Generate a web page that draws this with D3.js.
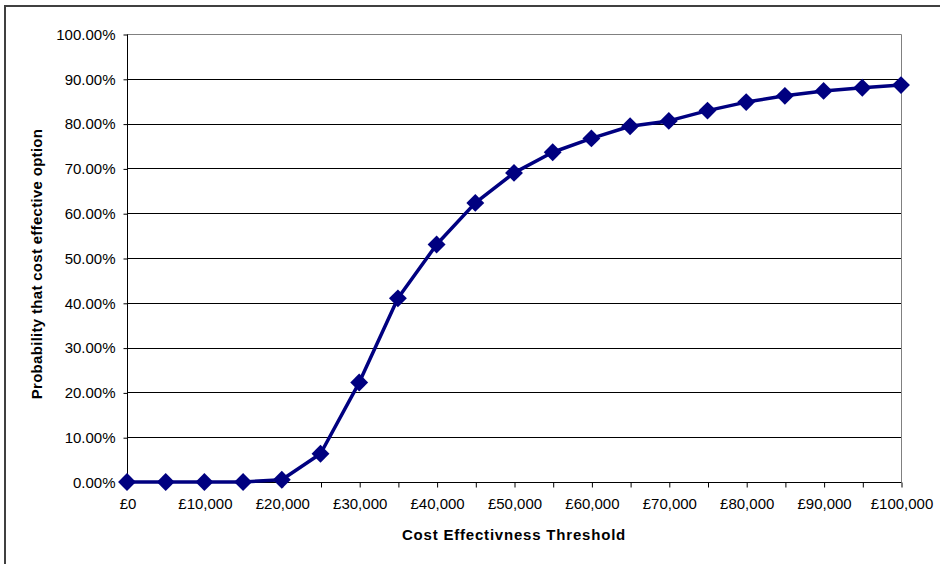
<!DOCTYPE html>
<html>
<head>
<meta charset="utf-8">
<script src="https://cdn.jsdelivr.net/npm/d3@7"></script>
<style>
  html, body { margin: 0; padding: 0; background: #fff; }
  svg { display: block; font-family: "Liberation Sans", Arial, sans-serif; }
</style>
</head>
<body>
<svg id="chart" width="940" height="564"></svg>
<script>
// Willingness-to-pay thresholds (£) and probability the option is cost effective (%)
const thresholds = [0, 5000, 10000, 15000, 20000, 25000, 30000, 35000, 40000, 45000, 50000,
                    55000, 60000, 65000, 70000, 75000, 80000, 85000, 90000, 95000, 100000];
const probability = [0, 0, 0, 0, 0.5, 6.3, 22.2, 41.0, 53.0, 62.3, 69.0,
                     73.6, 76.7, 79.4, 80.6, 82.9, 84.8, 86.2, 87.3, 88.0, 88.6];
const yTicks = [0, 10, 20, 30, 40, 50, 60, 70, 80, 90, 100];
const xLabelTicks = [0, 10000, 20000, 30000, 40000, 50000, 60000, 70000, 80000, 90000, 100000];
const xTitle = "Cost Effectivness Threshold";
const yTitle = "Probability that cost effective option";

const svg = d3.select("#chart");
const plot = { left: 127, right: 901, top: 34, bottom: 482 };
const labelFont = "15px";

const x = d3.scaleLinear().domain([0, 100000]).range([plot.left, plot.right]);
const y = d3.scaleLinear().domain([0, 100]).range([plot.bottom, plot.top]);

// outer chart frame
svg.append("rect")
  .attr("x", 5).attr("y", 6).attr("width", 945).attr("height", 570)
  .attr("fill", "none").attr("stroke", "#404040").attr("stroke-width", 2);

// plot frame (top and right edges in grey)
svg.append("path")
  .attr("d", `M${plot.left},${plot.top + 0.5}H${plot.right + 0.5}V${plot.bottom}`)
  .attr("fill", "none").attr("stroke", "#808080").attr("stroke-width", 1);

// horizontal gridlines
svg.append("g")
  .selectAll("line")
  .data(yTicks.filter(d => d > 0 && d < 100))
  .join("line")
  .attr("x1", plot.left).attr("x2", plot.right)
  .attr("y1", d => Math.round(y(d)) + 0.5).attr("y2", d => Math.round(y(d)) + 0.5)
  .attr("stroke", "#000").attr("stroke-width", 1);

// y axis
const yAxis = d3.axisLeft(y)
  .tickValues(yTicks)
  .tickSize(4)
  .tickPadding(8)
  .tickFormat(d => d.toFixed(2) + "%");
const gy = svg.append("g")
  .attr("transform", `translate(${plot.left + 0.5},0.5)`)
  .call(yAxis);
gy.attr("font-size", labelFont).attr("font-family", "Liberation Sans, Arial, sans-serif");
gy.select(".domain").attr("stroke", "#000").attr("d", `M0,${plot.top}V${plot.bottom}`);
gy.selectAll(".tick line").attr("stroke", "#000");
gy.selectAll(".tick text").attr("fill", "#000");

// x axis: ticks every £5,000, labels every £10,000
const xAxis = d3.axisBottom(x)
  .tickValues(thresholds)
  .tickSize(5)
  .tickPadding(11)
  .tickFormat(d => xLabelTicks.includes(d) ? "£" + d3.format(",")(d) : "");
const gx = svg.append("g")
  .attr("transform", `translate(0.5,${plot.bottom + 0.5})`)
  .call(xAxis);
gx.attr("font-size", labelFont).attr("font-family", "Liberation Sans, Arial, sans-serif");
gx.select(".domain").attr("stroke", "#000").attr("d", `M${plot.left},0H${plot.right}`);
gx.selectAll(".tick line").attr("stroke", "#000");
gx.selectAll(".tick text").attr("fill", "#000");

// axis titles
svg.append("text")
  .attr("x", (plot.left + plot.right) / 2)
  .attr("y", 540)
  .attr("text-anchor", "middle")
  .attr("font-size", "15px")
  .attr("font-weight", "bold")
  .attr("letter-spacing", "0.8px")
  .text(xTitle);

svg.append("text")
  .attr("transform", `translate(42,${(plot.top + plot.bottom) / 2 + 6}) rotate(-90)`)
  .attr("text-anchor", "middle")
  .attr("font-size", "15px")
  .attr("font-weight", "bold")
  .attr("letter-spacing", "0.3px")
  .text(yTitle);

// data series
const points = thresholds.map((t, i) => ({ t, p: probability[i] }));
const line = d3.line().x(d => x(d.t)).y(d => y(d.p));

svg.append("path")
  .datum(points)
  .attr("d", line)
  .attr("fill", "none")
  .attr("stroke", "#000080")
  .attr("stroke-width", 3.5)
  .attr("stroke-linejoin", "round");

// diamond markers: squares rotated by 45 degrees
svg.append("g")
  .selectAll("path")
  .data(points)
  .join("path")
  .attr("transform", d => `translate(${x(d.t)},${y(d.p)}) rotate(45)`)
  .attr("d", d3.symbol().type(d3.symbolSquare).size(160))
  .attr("fill", "#000080");
</script>
</body>
</html>
